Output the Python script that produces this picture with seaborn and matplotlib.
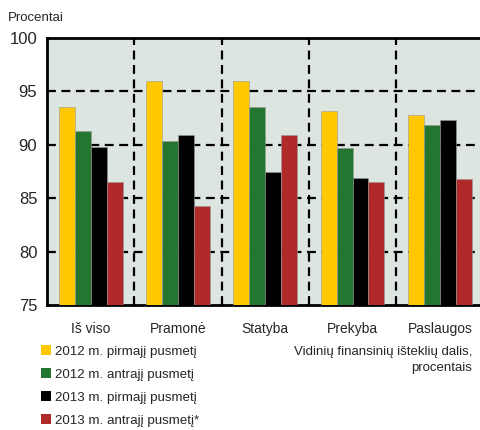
import pandas as pd
import matplotlib.pyplot as plt
import seaborn as sns
from matplotlib.patches import Patch

categories = ['Iš viso', 'Pramonė', 'Statyba', 'Prekyba', 'Paslaugos']
series = ['2012 m. pirmajį pusmetį', '2012 m. antrajį pusmetį',
          '2013 m. pirmajį pusmetį', '2013 m. antrajį pusmetį*']
h1_2012 = [93.5, 96.0, 96.0, 93.2, 92.8]
h2_2012 = [91.3, 90.4, 93.5, 89.7, 91.9]
h1_2013 = [89.8, 90.9, 87.5, 86.9, 92.3]
h2_2013 = [86.5, 84.3, 90.9, 86.5, 86.8]
colors = ['#ffc800', '#237530', '#000000', '#b02a2a']

rows = []
for s, vals in zip(series, [h1_2012, h2_2012, h1_2013, h2_2013]):
    for c, v in zip(categories, vals):
        rows.append({'cat': c, 'series': s, 'value': v})
df = pd.DataFrame(rows)

sns.set_style('white')
plt.rcParams['font.family'] = ['Liberation Sans', 'DejaVu Sans']

fig = plt.figure(figsize=(4.8, 4.3), dpi=100)
ax = fig.add_axes([47 / 480, 125 / 430, 433 / 480, 267 / 430])
ax.set_facecolor('#dde5e0')

sns.barplot(data=df, x='cat', y='value', hue='series', palette=colors,
            width=0.73, saturation=1, ax=ax, legend=False, zorder=3,
            linewidth=0.4, edgecolor='#9a9a9a')

ax.set_ylim(75, 100)
ax.set_xlim(-0.5, -0.5 + 433 / 87.3)
ax.set_yticks([75, 80, 85, 90, 95, 100])
ax.tick_params(axis='y', labelsize=12, length=4, direction='inout', width=1, pad=5)
ax.tick_params(axis='x', labelsize=10, length=0, pad=12)
ax.set_xlabel('')
ax.set_ylabel('')

for y in [80, 85, 90, 95]:
    ax.axhline(y, color='black', lw=1.6, ls=(0, (4, 2.5)), zorder=1)
for x in [0.5, 1.5, 2.5, 3.5]:
    ax.axvline(x, color='black', lw=1.6, ls=(0, (4, 2.5)), zorder=1)

for side in ['left', 'bottom', 'top']:
    ax.spines[side].set_linewidth(2)
    ax.spines[side].set_color('black')
ax.spines['right'].set_visible(False)

fig.text(8 / 480, 1 - 18 / 430, 'Procentai', fontsize=9.5, va='center', ha='left')
fig.text(472 / 480, 1 - 360 / 430, 'Vidinių finansinių išteklių dalis,\nprocentais',
         fontsize=9.5, ha='right', va='center', linespacing=1.35)

handles = [Patch(facecolor=c, edgecolor='none') for c in colors]
fig.legend(handles, series, loc='upper left', bbox_to_anchor=(36 / 480, 1 - 340 / 430),
           frameon=False, fontsize=9.6, handlelength=0.75, handleheight=0.75,
           handletextpad=0.3, labelspacing=0.78, borderaxespad=0)

fig.savefig('out.png', dpi=100)
